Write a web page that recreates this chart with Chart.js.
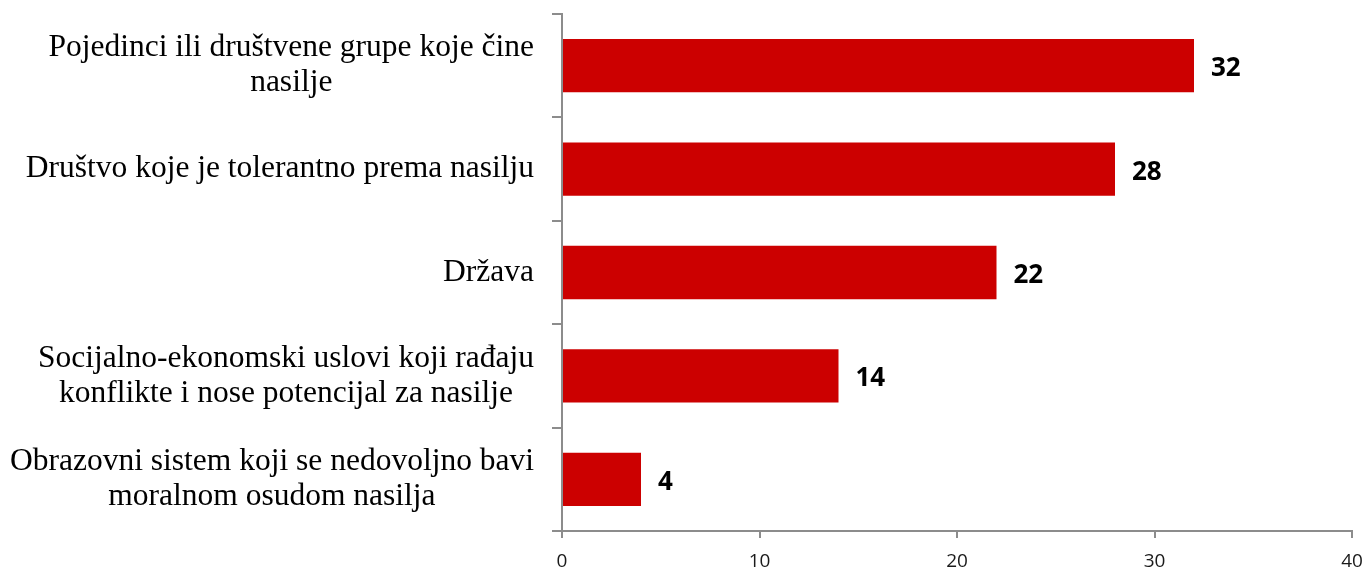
<!DOCTYPE html>
<html>
<head>
<meta charset="utf-8">
<script src="https://cdn.jsdelivr.net/npm/chart.js@4/dist/chart.umd.min.js"></script>
<style>
    html, body { margin: 0; padding: 0; background: #ffffff; }
    #wrap { width: 1365px; height: 571px; position: relative; }
</style>
</head>
<body>
<div id="wrap"><canvas id="causesChart"></canvas></div>
<script>
// Chart data
const categories = [
    ['Pojedinci ili društvene grupe koje čine', 'nasilje'],
    ['Društvo koje je tolerantno prema nasilju'],
    ['Država'],
    ['Socijalno-ekonomski uslovi koji rađaju', 'konflikte i nose potencijal za nasilje'],
    ['Obrazovni sistem koji se nedovoljno bavi', 'moralnom osudom nasilja']
];
const values = [32, 28, 22, 14, 4];
const xTicks = [0, 10, 20, 30, 40];

const axisColor = '#8c8c8c';
const barColor = '#cc0000';

// Draw category labels: block right-aligned to the axis, lines centred inside the block
const categoryLabels = {
    id: 'categoryLabels',
    afterDraw(chart) {
        const ctx = chart.ctx;
        const yScale = chart.scales.y;
        const rightEdge = chart.chartArea.left - 28;
        const lineHeight = 35;
        ctx.save();
        ctx.font = '31.5px "Liberation Serif", "Times New Roman", serif';
        ctx.fillStyle = '#000000';
        ctx.textAlign = 'center';
        ctx.textBaseline = 'middle';
        categories.forEach((lines, i) => {
            const y = yScale.getPixelForValue(i);
            const widest = Math.max(...lines.map(l => ctx.measureText(l).width));
            const cx = rightEdge - widest / 2;
            const top = y - (lines.length - 1) * lineHeight / 2;
            lines.forEach((line, j) => {
                ctx.fillText(line, cx, top + j * lineHeight);
            });
        });
        ctx.restore();
    }
};

// Value labels at the end of each bar
const valueLabels = {
    id: 'valueLabels',
    afterDatasetsDraw(chart) {
        const ctx = chart.ctx;
        const meta = chart.getDatasetMeta(0);
        ctx.save();
        ctx.font = 'bold 26px "Open Sans", sans-serif';
        ctx.fillStyle = '#000000';
        ctx.textAlign = 'left';
        ctx.textBaseline = 'middle';
        meta.data.forEach((bar, i) => {
            ctx.fillText(String(values[i]), bar.x + 17, bar.y + 3);
        });
        ctx.restore();
    }
};

const ctx = document.getElementById('causesChart').getContext('2d');
new Chart(ctx, {
    type: 'bar',
    data: {
        labels: categories.map(c => c.join(' ')),
        datasets: [{
            data: values,
            backgroundColor: barColor,
            borderWidth: 0,
            categoryPercentage: 1.0,
            barPercentage: 0.515
        }]
    },
    options: {
        indexAxis: 'y',
        responsive: true,
        maintainAspectRatio: false,
        animation: false,
        layout: { padding: { top: 14, right: 13, left: 0, bottom: 0 } },
        plugins: {
            legend: { display: false },
            tooltip: { enabled: false }
        },
        scales: {
            x: {
                min: 0,
                max: 40,
                afterBuildTicks(scale) {
                    scale.ticks = xTicks.map(v => ({ value: v }));
                },
                afterFit(scale) {
                    scale.height = 40;
                    scale.paddingLeft = 0;
                    scale.paddingRight = 0;
                },
                grid: {
                    drawOnChartArea: false,
                    drawTicks: true,
                    tickLength: 7,
                    color: axisColor,
                    lineWidth: 2
                },
                border: { color: axisColor, width: 2 },
                ticks: {
                    color: '#1a1a1a',
                    font: { family: '"Open Sans", sans-serif', size: 19 },
                    padding: 12
                }
            },
            y: {
                afterFit(scale) {
                    scale.width = 562;
                },
                grid: {
                    offset: true,
                    drawOnChartArea: false,
                    drawTicks: true,
                    tickLength: 10,
                    color: axisColor,
                    lineWidth: 2
                },
                border: { color: axisColor, width: 2 },
                ticks: { display: false }
            }
        }
    },
    plugins: [categoryLabels, valueLabels]
});
</script>
</body>
</html>
